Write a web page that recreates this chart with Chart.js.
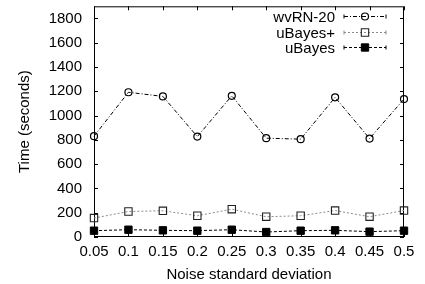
<!DOCTYPE html>
<html lang="en">
<head>
<meta charset="UTF-8">
<title>Time vs noise</title>
<script src="https://cdn.jsdelivr.net/npm/chart.js"></script>
<style>
  html, body { margin: 0; padding: 0; background: #fff; }
  #wrap { width: 425px; height: 284px; position: relative; }
</style>
</head>
<body>
<div id="wrap"><canvas id="chart"></canvas></div>
<script>
// noise levels (x)
const noiseLevels = [0.05, 0.1, 0.15, 0.2, 0.25, 0.3, 0.35, 0.4, 0.45, 0.5];
// running time in seconds
const wvrnTimes = [830, 1192, 1158, 827, 1163, 814, 806, 1150, 811, 1136];
const ubayesPlusTimes = [156, 210, 216, 175, 229, 167, 175, 218, 167, 218];
const ubayesTimes = [52, 60, 55, 52, 60, 41, 52, 55, 44, 52];
const yTicks = [0, 200, 400, 600, 800, 1000, 1200, 1400, 1600, 1800];

const font = { family: "'Liberation Sans', Arial, sans-serif", size: 15 };
const toPoints = vals => vals.map((v, i) => ({ x: noiseLevels[i], y: v }));

// gnuplot style frame: box + inward ticks on all sides
const framePlugin = {
  id: 'frame',
  beforeDatasetsDraw(chart) {
    const { ctx, chartArea: a, scales } = chart;
    ctx.save();
    ctx.strokeStyle = '#000';
    ctx.lineWidth = 1;
    ctx.setLineDash([]);
    ctx.strokeRect(a.left + 0.5, a.top + 0.5, a.right - a.left - 1, a.bottom - a.top - 1);
    const len = 4;
    ctx.beginPath();
    noiseLevels.forEach(v => {
      const x = Math.round(scales.x.getPixelForValue(v)) + 0.5;
      ctx.moveTo(x, a.bottom); ctx.lineTo(x, a.bottom - len);
      ctx.moveTo(x, a.top); ctx.lineTo(x, a.top + len);
    });
    yTicks.forEach(v => {
      const y = Math.round(scales.y.getPixelForValue(v)) + 0.5;
      ctx.moveTo(a.left, y); ctx.lineTo(a.left + len, y);
      ctx.moveTo(a.right, y); ctx.lineTo(a.right - len, y);
    });
    ctx.stroke();
    ctx.restore();
  }
};

// legend: label right-aligned, then line sample with marker
const legendPlugin = {
  id: 'keyBox',
  afterDraw(chart) {
    const { ctx } = chart;
    const textRight = 335, lineL = 344, lineR = 386, y0 = 16, step = 15.5;
    ctx.save();
    ctx.font = `${font.size}px ${font.family}`;
    ctx.textAlign = 'right';
    ctx.textBaseline = 'middle';
    chart.data.datasets.forEach((ds, i) => {
      const y = Math.round(y0 + i * step) + 0.5;
      ctx.fillStyle = '#000';
      ctx.fillText(ds.label, textRight, y + 1);
      ctx.strokeStyle = ds.borderColor;
      ctx.lineWidth = 1;
      ctx.setLineDash(ds.borderDash);
      ctx.beginPath(); ctx.moveTo(lineL, y); ctx.lineTo(lineR, y); ctx.stroke();
      ctx.setLineDash([]);
      ctx.beginPath();
      ctx.moveTo(lineL, y - 2); ctx.lineTo(lineL, y + 2);
      ctx.moveTo(lineR, y - 2); ctx.lineTo(lineR, y + 2);
      ctx.stroke();
      const cx = (lineL + lineR) / 2;
      ctx.strokeStyle = ds.pointBorderColor;
      ctx.fillStyle = ds.pointBackgroundColor;
      ctx.lineWidth = ds.pointBorderWidth;
      ctx.beginPath();
      if (ds.pointStyle === 'circle') {
        ctx.arc(cx, y, ds.pointRadius, 0, Math.PI * 2);
      } else {
        const s = Math.SQRT1_2 * ds.pointRadius;
        ctx.rect(cx - s, y - s, 2 * s, 2 * s);
      }
      ctx.fill(); ctx.stroke();
    });
    ctx.restore();
  }
};

new Chart(document.getElementById('chart'), {
  type: 'line',
  data: {
    datasets: [
      {
        label: 'wvRN-20',
        data: toPoints(wvrnTimes),
        clip: false,
        borderColor: '#000',
        borderWidth: 1,
        borderDash: [4, 2, 1, 2],
        pointStyle: 'circle',
        pointRadius: 3.5,
        pointBorderWidth: 1.2,
        pointBorderColor: '#000',
        pointBackgroundColor: 'rgba(255,255,255,0)'
      },
      {
        label: 'uBayes+',
        data: toPoints(ubayesPlusTimes),
        clip: false,
        borderColor: '#8a8a8a',
        borderWidth: 1,
        borderDash: [2, 2],
        pointStyle: 'rect',
        pointRadius: 5.2,
        pointBorderWidth: 1.1,
        pointBorderColor: '#222',
        pointBackgroundColor: 'rgba(255,255,255,0)'
      },
      {
        label: 'uBayes',
        data: toPoints(ubayesTimes),
        clip: false,
        borderColor: '#000',
        borderWidth: 1,
        borderDash: [3, 2],
        pointStyle: 'rect',
        pointRadius: 5.2,
        pointBorderWidth: 1,
        pointBorderColor: '#000',
        pointBackgroundColor: '#000'
      }
    ]
  },
  options: {
    responsive: true,
    maintainAspectRatio: false,
    animation: false,
    layout: { padding: { top: 5, right: 21, left: 0, bottom: 0 } },
    plugins: { legend: { display: false }, tooltip: { enabled: false } },
    scales: {
      x: {
        type: 'linear',
        min: 0.05,
        max: 0.5,
        afterFit: s => { s.height = 47; s.paddingLeft = 0; s.paddingRight = 0; },
        afterBuildTicks: s => { s.ticks = noiseLevels.map(v => ({ value: v })); },
        grid: { display: false, drawTicks: false },
        border: { display: false },
        ticks: { color: '#000', font, padding: 6, maxRotation: 0, autoSkip: false,
                 callback: v => String(v) },
        title: { display: true, text: 'Noise standard deviation', color: '#000', font,
                 padding: { top: 1, bottom: 0 } }
      },
      y: {
        min: 0,
        max: 1900,
        afterFit: s => { s.width = 94; s.paddingTop = 0; s.paddingBottom = 0; },
        afterBuildTicks: s => { s.ticks = yTicks.map(v => ({ value: v })); },
        grid: { display: false, drawTicks: false },
        border: { display: false },
        ticks: { color: '#000', font, padding: 12, callback: v => String(v) },
        title: { display: true, text: 'Time (seconds)', color: '#000', font,
                 padding: { top: 16, bottom: 0 } }
      }
    }
  },
  plugins: [framePlugin, legendPlugin]
});
</script>
</body>
</html>
